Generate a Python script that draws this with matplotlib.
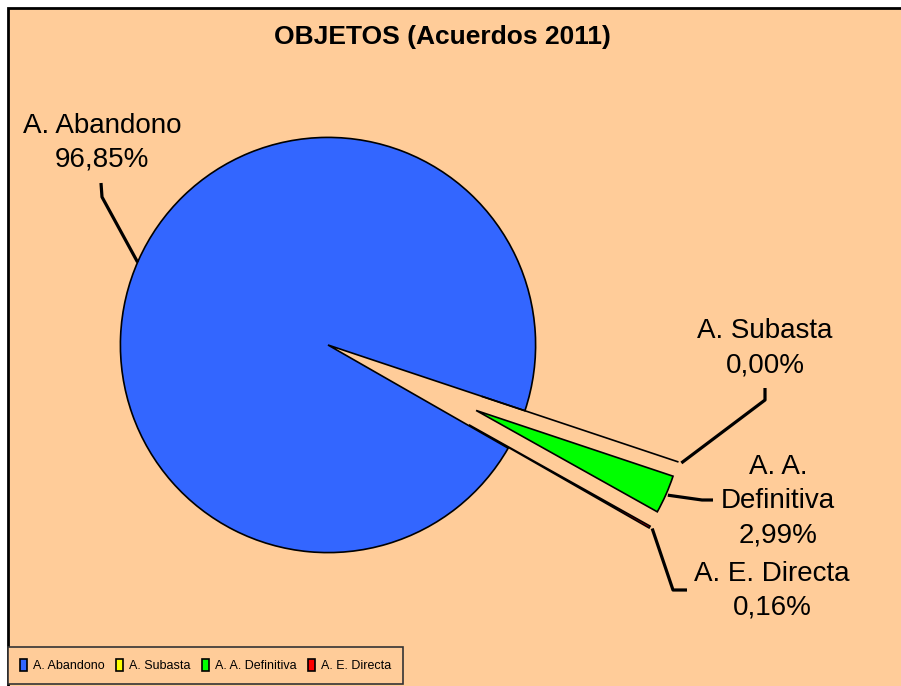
import matplotlib
matplotlib.use('Agg')
import numpy as np
import matplotlib.pyplot as plt
from matplotlib.patches import Rectangle
from matplotlib import font_manager

# ---- data ----
categories = ['A. Abandono', 'A. Subasta', 'A. A. Definitiva', 'A. E. Directa']
label_names = ['A. Abandono', 'A. Subasta', 'A. A.\nDefinitiva', 'A. E. Directa']
values = [96.85, 0.00, 2.99, 0.16]
colors = ['#3366FF', '#FFFF00', '#00FF00', '#FF0000']
title = 'OBJETOS (Acuerdos 2011)'

W, H = 901, 686
BG = '#FFCC99'

names = {f.name for f in font_manager.fontManager.ttflist}
base_font = 'Liberation Sans' if 'Liberation Sans' in names else 'DejaVu Sans'
if 'Liberation Sans Narrow' in names:
    leg_font, leg_size = 'Liberation Sans Narrow', 11
else:
    leg_font, leg_size = base_font, 9
plt.rcParams['font.family'] = [base_font, 'DejaVu Sans']

fig = plt.figure(figsize=(W / 100, H / 100), dpi=100)
fig.patch.set_facecolor('white')
ax = fig.add_axes([0, 0, 1, 1])


def Y(y):
    return H - y


# chart area
ax.add_patch(Rectangle((8, -12), W + 20, Y(8) + 12, facecolor=BG,
                       edgecolor='black', linewidth=2, zorder=0))

cx, cy, R = 328, Y(345), 207.6
expl = 0.78 * R
wedges, _ = ax.pie(values, colors=colors, startangle=-29.8, counterclock=False,
                   center=(cx, cy), radius=R, explode=[0, expl, expl, expl],
                   wedgeprops=dict(edgecolor='black', linewidth=1.2),
                   frame=True, normalize=True)

ax.set_xlim(0, W)
ax.set_ylim(0, H)
ax.set_aspect('auto')
ax.axis('off')


def tip(w, frac=0.5, extra=4):
    th = np.deg2rad(w.theta1 + frac * (w.theta2 - w.theta1))
    x0, y0 = w.center
    return x0 + (w.r + extra) * np.cos(th), y0 + (w.r + extra) * np.sin(th)


def pct(v):
    return f'{v:.2f}'.replace('.', ',') + '%'

lw_lead = 2.3
# Abandono leader
a = np.deg2rad(156.5)
p_ab = (cx + R * np.cos(a), cy + R * np.sin(a))
ax.plot([p_ab[0], 102, 101], [p_ab[1], Y(197), Y(183)], color='black', lw=lw_lead,
        solid_capstyle='butt', zorder=5)
# Subasta
ps = tip(wedges[1], 0.5, 3)
ax.plot([ps[0], 765, 765], [ps[1], Y(400), Y(388)], color='black', lw=lw_lead,
        solid_capstyle='butt', zorder=5)
# Definitiva
pdf = tip(wedges[2], 0.5, 2)
ax.plot([pdf[0], 702, 713], [pdf[1], Y(500), Y(500)], color='black', lw=lw_lead,
        solid_capstyle='butt', zorder=5)
# Directa
pdr = tip(wedges[3], 0.5, 3)
ax.plot([pdr[0], 673, 687], [pdr[1], Y(590), Y(590)], color='black', lw=lw_lead,
        solid_capstyle='butt', zorder=5)

label_pos = [(102, 143), (765, 348), (778, 501), (772, 591)]
for name, v, (x, y) in zip(label_names, values, label_pos):
    ax.text(x, Y(y), f'{name}\n{pct(v)}', ha='center', va='center',
            multialignment='center', fontsize=20, linespacing=1.4, zorder=6)

ax.text(442, Y(37), title, ha='center', va='center', fontsize=19,
        fontweight='bold', zorder=6)

leg = fig.legend(wedges, categories, loc='lower left',
                 bbox_to_anchor=(8 / W, 2 / H), ncol=4, frameon=True,
                 fancybox=False, edgecolor='#333333', facecolor=BG,
                 framealpha=1, handlelength=0.55, handleheight=1.1,
                 handletextpad=0.5, columnspacing=0.9, borderpad=0.95,
                 borderaxespad=0, prop={'family': leg_font, 'size': leg_size})
leg.get_frame().set_linewidth(1.2)

fig.savefig('out.png', dpi=100, facecolor='white')
